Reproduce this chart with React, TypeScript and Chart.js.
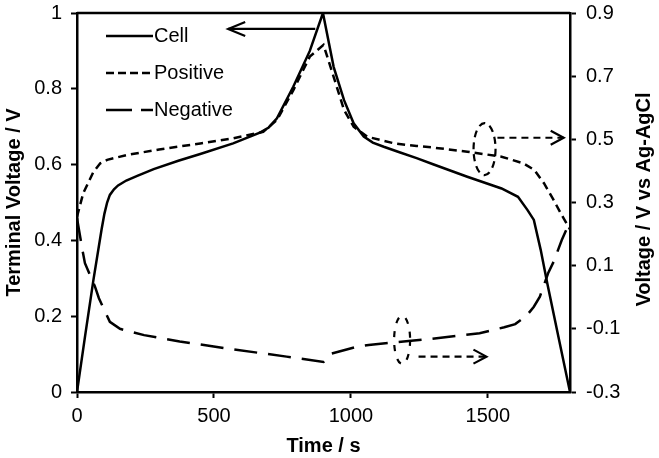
import { useEffect, useRef } from "react";
import { Chart, registerables } from "chart.js";
Chart.register(...registerables);

// ---- data ----
const cellTime = [0, 30, 60, 90, 100, 110, 120, 135, 150, 180, 220, 280, 370, 450, 570, 670, 700, 730, 790, 850, 898, 937, 975, 1010, 1047, 1080, 1120, 1180, 1240, 1300, 1425, 1550, 1610, 1645, 1668, 1693, 1717, 1755, 1800];
const cellVolt = [0, 0.15, 0.296, 0.43, 0.47, 0.5, 0.52, 0.535, 0.545, 0.558, 0.57, 0.588, 0.61, 0.628, 0.656, 0.685, 0.698, 0.722, 0.806, 0.9, 1.0, 0.858, 0.77, 0.709, 0.674, 0.658, 0.647, 0.632, 0.617, 0.601, 0.568, 0.537, 0.515, 0.48, 0.454, 0.375, 0.287, 0.155, 0];

const posTime = [0, 23, 60, 85, 110, 180, 300, 450, 570, 680, 730, 790, 850, 900, 937, 975, 1010, 1060, 1160, 1240, 1300, 1425, 1550, 1630, 1670, 1705, 1740, 1770, 1800];
const posVolt = [0.255, 0.33, 0.397, 0.424, 0.435, 0.45, 0.468, 0.487, 0.503, 0.524, 0.561, 0.656, 0.762, 0.799, 0.698, 0.593, 0.54, 0.508, 0.487, 0.479, 0.474, 0.461, 0.445, 0.424, 0.403, 0.361, 0.308, 0.26, 0.215];

const negTime = [0, 21, 29, 66, 80, 120, 157, 245, 375, 545, 765, 900, 930, 1020, 1065, 1155, 1220, 1290, 1470, 1560, 1600, 1640, 1668, 1690, 1720, 1740, 1770, 1800];
const negVolt = [0.25, 0.144, 0.108, 0.033, -0.003, -0.078, -0.1, -0.12, -0.14, -0.162, -0.188, -0.205, -0.178, -0.157, -0.151, -0.143, -0.138, -0.132, -0.114, -0.095, -0.085, -0.06, -0.03, 0.002, 0.076, 0.112, 0.181, 0.24];

const xTicks = [0, 500, 1000, 1500];
const leftTicks = [0, 0.2, 0.4, 0.6, 0.8, 1];
const rightTicks = [-0.3, -0.1, 0.1, 0.3, 0.5, 0.7, 0.9];
const seriesLabels = ["Cell", "Positive", "Negative"];

// annotation anchors (data units)
const cellArrow = { from: 870, to: 552, y: 0.958 };
const posEllipse = { x: 1488, y: 0.469 };
const posArrow = { from: 1535, to: 1777, y: 0.505 };
const negEllipse = { x: 1187, y: -0.135 };
const negArrow = { from: 1247, to: 1495, y: -0.188 };

const FONT = "'Liberation Sans', Arial, sans-serif";
const dashPos = [8, 5];
const dashNeg = [23, 11];

function arrow(ctx: CanvasRenderingContext2D, x1: number, x2: number, y: number, dash: number[], arm: number) {
  ctx.setLineDash(dash);
  ctx.beginPath();
  ctx.moveTo(x1, y);
  ctx.lineTo(x2, y);
  ctx.stroke();
  ctx.setLineDash([]);
  const dir = x2 > x1 ? -1 : 1;
  ctx.beginPath();
  ctx.moveTo(x2 + dir * arm, y - 7);
  ctx.lineTo(x2, y);
  ctx.lineTo(x2 + dir * arm, y + 7);
  ctx.stroke();
}

const overlay = {
  id: "overlay",
  afterDatasetsDraw(chart: any) {
    const { ctx, chartArea: a, scales } = chart;
    const x = scales.x, yl = scales.yLeft, yr = scales.yRight;
    ctx.save();
    ctx.strokeStyle = "#000";
    ctx.fillStyle = "#000";
    ctx.lineWidth = 2.5;
    ctx.setLineDash([]);
    // top frame line
    ctx.beginPath();
    ctx.moveTo(a.left, a.top);
    ctx.lineTo(a.right, a.top);
    ctx.stroke();

    // legend
    const dashes = [[], [8, 4], [26, 9]];
    ctx.font = `20px ${FONT}`;
    ctx.textBaseline = "middle";
    ctx.textAlign = "left";
    seriesLabels.forEach((lab, i) => {
      const yy = a.top + 23 + i * 37;
      ctx.setLineDash(dashes[i]);
      ctx.lineWidth = 2.5;
      ctx.beginPath();
      ctx.moveTo(a.left + 29, yy);
      ctx.lineTo(a.left + 76, yy);
      ctx.stroke();
      ctx.setLineDash([]);
      ctx.fillText(lab, a.left + 77, yy);
    });

    // annotations
    ctx.lineWidth = 2.2;
    arrow(ctx, x.getPixelForValue(cellArrow.from), x.getPixelForValue(cellArrow.to), yl.getPixelForValue(cellArrow.y), [], 17);
    arrow(ctx, x.getPixelForValue(posArrow.from), x.getPixelForValue(posArrow.to), yr.getPixelForValue(posArrow.y), [7, 5], 13);
    arrow(ctx, x.getPixelForValue(negArrow.from), x.getPixelForValue(negArrow.to), yr.getPixelForValue(negArrow.y), [7, 5], 13);
    ctx.setLineDash([7, 5]);
    ctx.beginPath();
    ctx.ellipse(x.getPixelForValue(posEllipse.x), yr.getPixelForValue(posEllipse.y), 11, 26, 0, 0, Math.PI * 2);
    ctx.stroke();
    ctx.setLineDash([6, 8]);
    ctx.beginPath();
    ctx.ellipse(x.getPixelForValue(negEllipse.x), yr.getPixelForValue(negEllipse.y), 8, 24, 0, 0, Math.PI * 2);
    ctx.stroke();
    ctx.setLineDash([]);

    // right axis title (reads bottom-to-top)
    ctx.font = `bold 20px ${FONT}`;
    ctx.textAlign = "center";
    ctx.textBaseline = "middle";
    ctx.translate(644, (a.top + a.bottom) / 2 - 3);
    ctx.rotate(-Math.PI / 2);
    ctx.fillText("Voltage / V vs Ag-AgCl", 0, 0);
    ctx.restore();
  },
};

const axisCommon = {
  grid: { display: true, drawOnChartArea: false, drawTicks: true, tickLength: 6, tickWidth: 2, tickColor: "#000" },
  border: { display: true, color: "#000", width: 2.5 },
};

function noPad(s: any) {
  s.paddingTop = 0;
  s.paddingBottom = 0;
  s.paddingLeft = 0;
  s.paddingRight = 0;
}

export default function App() {
  const ref = useRef<HTMLCanvasElement | null>(null);
  useEffect(() => {
    if (!ref.current) return;
    const chart = new Chart(ref.current, {
      type: "scatter",
      data: {
        datasets: [
          {
            label: seriesLabels[0],
            data: cellTime.map((t, i) => ({ x: t, y: cellVolt[i] })),
            yAxisID: "yLeft",
            showLine: true,
            borderColor: "#000",
            borderWidth: 2.5,
            pointRadius: 0,
            tension: 0,
          },
          {
            label: seriesLabels[1],
            data: posTime.map((t, i) => ({ x: t, y: posVolt[i] })),
            yAxisID: "yRight",
            showLine: true,
            borderColor: "#000",
            borderWidth: 2.5,
            borderDash: dashPos,
            pointRadius: 0,
            tension: 0,
          },
          {
            label: seriesLabels[2],
            data: negTime.map((t, i) => ({ x: t, y: negVolt[i] })),
            yAxisID: "yRight",
            showLine: true,
            borderColor: "#000",
            borderWidth: 2.5,
            borderDash: dashNeg,
            pointRadius: 0,
            tension: 0,
          },
        ],
      },
      options: {
        responsive: true,
        maintainAspectRatio: false,
        animation: false,
        events: [],
        layout: { padding: { top: 13, left: 0, right: 0, bottom: 0 } },
        plugins: { legend: { display: false }, tooltip: { enabled: false } },
        scales: {
          x: {
            type: "linear",
            min: 0,
            max: 1800,
            ...axisCommon,
            afterBuildTicks: (s: any) => { s.ticks = xTicks.map((v) => ({ value: v })); },
            afterFit: (s: any) => { s.height = 66; noPad(s); },
            ticks: { color: "#000", padding: 6, font: { family: FONT, size: 20 }, maxRotation: 0, callback: (v: any) => String(v) },
            title: { display: true, text: "Time / s", color: "#000", font: { family: FONT, size: 20, weight: "bold" }, padding: { top: 0, bottom: 0 } },
          },
          yLeft: {
            type: "linear",
            position: "left",
            min: 0,
            max: 1,
            ...axisCommon,
            afterBuildTicks: (s: any) => { s.ticks = leftTicks.map((v) => ({ value: v })); },
            afterFit: (s: any) => { s.width = 77; noPad(s); },
            ticks: { color: "#000", padding: 9, font: { family: FONT, size: 20 }, callback: (v: any) => String(Number(Number(v).toFixed(1))) },
            title: { display: true, text: "Terminal Voltage / V", color: "#000", font: { family: FONT, size: 20, weight: "bold" }, padding: { top: 2, bottom: 0 } },
          },
          yRight: {
            type: "linear",
            position: "right",
            min: -0.3,
            max: 0.9,
            ...axisCommon,
            afterBuildTicks: (s: any) => { s.ticks = rightTicks.map((v) => ({ value: v })); },
            afterFit: (s: any) => { s.width = 89; noPad(s); },
            ticks: { color: "#000", padding: 10, font: { family: FONT, size: 20 }, callback: (v: any) => Number(v).toFixed(1) },
          },
        },
      },
      plugins: [overlay],
    });
    return () => chart.destroy();
  }, []);
  return (
    <div style={{ position: "fixed", left: 0, top: 0, width: 659, height: 458, background: "#fff" }}>
      <canvas ref={ref} />
    </div>
  );
}
